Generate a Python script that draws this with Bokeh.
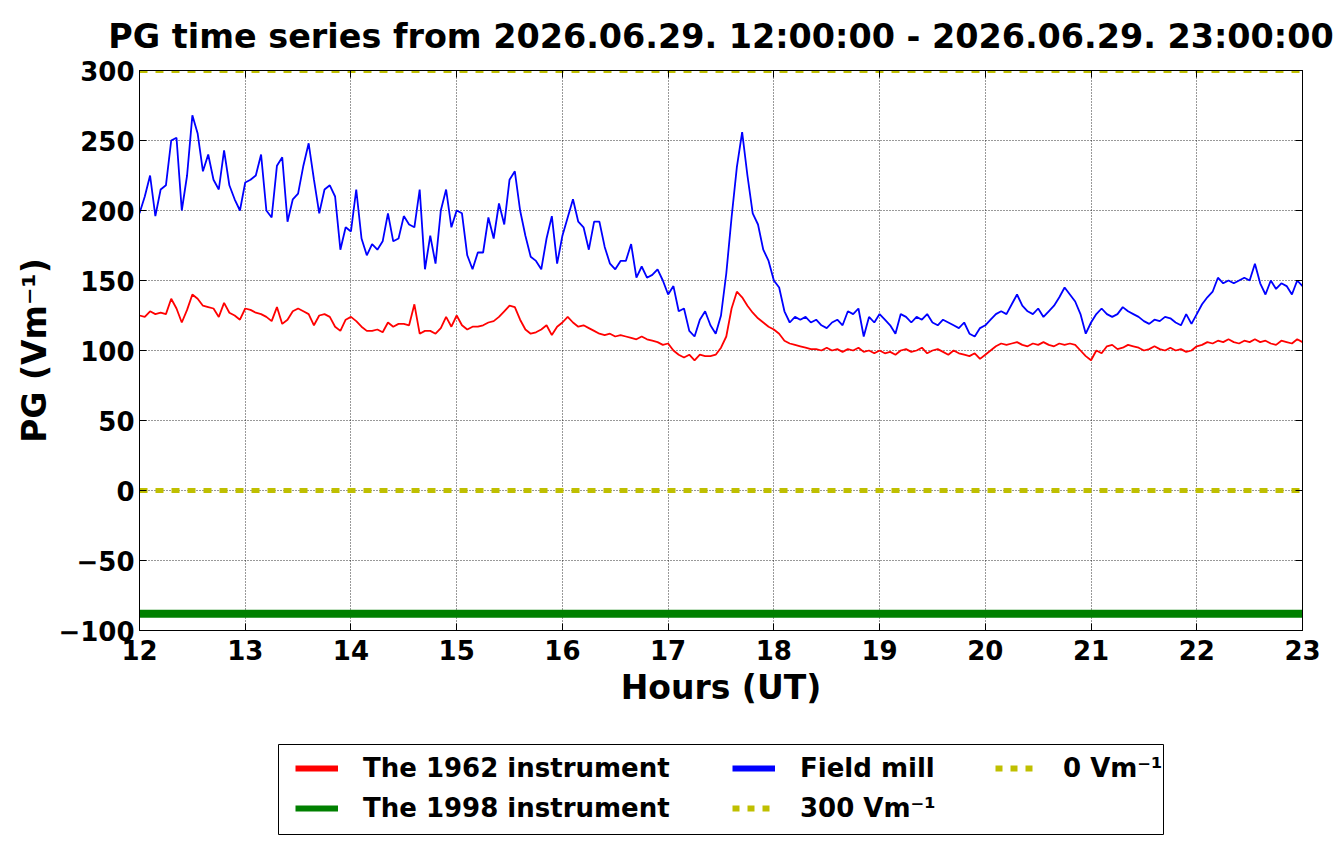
from bokeh.plotting import figure
from bokeh.models import Legend, LegendItem, LinearAxis, FixedTicker, Range1d
from bokeh.layouts import column
from bokeh.embed import file_html
from bokeh.resources import INLINE

# ---------------- data ----------------
TITLE = "PG time series from 2026.06.29. 12:00:00 - 2026.06.29. 23:00:00"
START_HOUR = 12.0
STEP_HOUR = 0.05  # sampling step of the readings (3 min)

# Field mill (blue), one row per hour, 20 readings per hour
field_mill = [
    198, 210, 225, 196, 215, 218, 250, 252, 200, 225, 268, 255, 228, 240, 222, 215, 243, 218, 208, 200,
    220, 222, 225, 240, 200, 195, 232, 238, 192, 208, 212, 232, 248, 222, 198, 215, 218, 210, 172, 188,
    185, 215, 180, 168, 176, 172, 178, 198, 178, 180, 196, 190, 188, 215, 158, 182, 162, 200, 215, 188,
    200, 198, 168, 158, 170, 170, 195, 180, 205, 190, 222, 228, 200, 182, 167, 164, 158, 180, 196, 162,
    182, 195, 208, 192, 188, 172, 192, 192, 174, 162, 158, 164, 164, 176, 152, 160, 152, 154, 158, 150,
    140, 146, 128, 130, 114, 110, 122, 128, 118, 112, 125, 155, 195, 231, 256, 225, 198, 190, 172, 164,
    150, 145, 128, 120, 124, 122, 124, 120, 122, 118, 116, 120, 122, 118, 128, 126, 130, 110, 124, 120,
    126, 122, 118, 112, 126, 124, 120, 124, 122, 126, 120, 118, 122, 120, 118, 116, 120, 112, 110, 116,
    118, 122, 126, 128, 126, 133, 140, 132, 128, 126, 130, 124, 128, 132, 138, 145, 140, 135, 126, 112,
    120, 126, 130, 126, 124, 126, 131, 128, 126, 124, 121, 119, 122, 121, 124, 123, 120, 118, 126, 119,
    126, 133, 138, 142, 152, 148, 150, 148, 150, 152, 150, 162, 148, 140, 150, 144, 148, 146, 140, 150,
    146,
]

# The 1962 instrument (red)
inst_1962 = [
    125, 124, 128, 126, 127, 126, 137, 130, 120, 129, 140, 137, 132, 131, 130, 124, 134, 127, 125, 122,
    130, 129, 127, 126, 124, 121, 131, 119, 122, 128, 130, 128, 126, 118, 125, 126, 124, 117, 114, 122,
    124, 121, 117, 114, 114, 115, 113, 120, 117, 119, 119, 118, 133, 112, 114, 114, 112, 116, 124, 117,
    125, 118, 115, 117, 117, 118, 120, 121, 124, 128, 132, 131, 122, 115, 112, 113, 115, 118, 111, 117,
    120, 124, 120, 117, 118, 116, 114, 112, 111, 112, 110, 111, 110, 109, 108, 110, 108, 107, 106, 104,
    105, 100, 97, 95, 97, 93, 97, 96, 96, 97, 102, 110, 130, 142, 138, 132, 127, 123, 120, 117,
    115, 112, 107, 105, 104, 103, 102, 101, 101, 100, 102, 100, 101, 99, 101, 100, 102, 99, 100, 98,
    100, 98, 99, 97, 100, 101, 99, 100, 102, 98, 100, 101, 99, 97, 100, 98, 97, 96, 98, 94,
    97, 100, 103, 105, 104, 105, 106, 104, 103, 105, 104, 106, 104, 103, 105, 104, 105, 104, 100, 96,
    93, 100, 98, 103, 104, 101, 102, 104, 103, 102, 100, 101, 103, 101, 100, 102, 100, 101, 99, 100,
    103, 104, 106, 105, 107, 106, 108, 106, 105, 107, 106, 108, 106, 107, 105, 104, 107, 106, 105, 108,
    106,
]

# The 1998 instrument (green), flat reading
inst_1998_level = -88
# reference levels
level_0 = 0
level_300 = 300

x_ticks = [12, 13, 14, 15, 16, 17, 18, 19, 20, 21, 22, 23]
y_ticks = [-100, -50, 0, 50, 100, 150, 200, 250, 300]
y_tick_labels = {-100: "\u2212100", -50: "\u221250"}

legend_labels = ["The 1962 instrument", "The 1998 instrument", "Field mill",
                 "300 Vm\u207b\u00b9", "0 Vm\u207b\u00b9"]

hours = [round(START_HOUR + i * STEP_HOUR, 4) for i in range(len(field_mill))]

# ---------------- main figure ----------------
FONT = "DejaVu Sans"
RED, GREEN, BLUE, YEL = "#ff0000", "#008000", "#0000ff", "#bfbf00"
FRAME_L, FRAME_T, FRAME_W, FRAME_H = 139, 70, 1163, 560
PAGE_W, PAGE_H = 1342, 844
MAIN_H = 720

p = figure(output_backend="svg", toolbar_location=None,
           frame_width=FRAME_W, frame_height=FRAME_H,
           x_range=Range1d(12, 23), y_range=Range1d(-100, 300),
           min_border_left=FRAME_L, min_border_right=PAGE_W - FRAME_L - FRAME_W,
           min_border_top=FRAME_T, min_border_bottom=MAIN_H - FRAME_T - FRAME_H,
           title=TITLE)
p.background_fill_color = "white"
p.border_fill_color = "white"
p.outline_line_color = "black"
p.outline_line_width = 1

p.title.text_font = FONT
p.title.text_font_size = "33.4px"
p.title.text_font_style = "bold"
p.title.text_color = "black"
p.title.align = "center"
p.title.standoff = 29

for ax in (p.xaxis[0], p.yaxis[0]):
    ax.major_label_text_font = FONT
    ax.major_label_text_font_size = "26px"
    ax.major_label_text_font_style = "bold"
    ax.major_label_text_color = "black"
    ax.axis_label_text_font = FONT
    ax.axis_label_text_font_size = "33px"
    ax.axis_label_text_font_style = "bold"
    ax.axis_label_text_color = "black"
    ax.major_tick_in = 7
    ax.major_tick_out = 0
    ax.minor_tick_in = 0
    ax.minor_tick_out = 0
    ax.axis_line_color = "black"
    ax.major_tick_line_color = "black"

p.xaxis.major_label_standoff = 9
p.xaxis.axis_label_standoff = 5
p.yaxis.major_label_standoff = 5
p.yaxis.axis_label_standoff = 1

p.xaxis.ticker = FixedTicker(ticks=x_ticks)
p.yaxis.ticker = FixedTicker(ticks=y_ticks)
p.yaxis.major_label_overrides = y_tick_labels
p.xaxis.axis_label = "Hours (UT)"
p.yaxis.axis_label = "PG (Vm\u207b\u00b9)"

top_ax = LinearAxis(ticker=FixedTicker(ticks=x_ticks), major_label_text_font_size="0px",
                    major_tick_in=7, major_tick_out=0, minor_tick_in=0, minor_tick_out=0,
                    major_label_standoff=0, axis_line_color="black")
right_ax = LinearAxis(ticker=FixedTicker(ticks=y_ticks), major_label_text_font_size="0px",
                      major_tick_in=7, major_tick_out=0, minor_tick_in=0, minor_tick_out=0,
                      major_label_standoff=0, axis_line_color="black")
p.add_layout(top_ax, "above")
p.add_layout(right_ax, "right")

p.xgrid.ticker = FixedTicker(ticks=x_ticks)
p.ygrid.ticker = FixedTicker(ticks=y_ticks)
for g in (p.xgrid[0], p.ygrid[0]):
    g.grid_line_color = "black"
    g.grid_line_dash = "1 2"
    g.grid_line_width = 1
    g.grid_line_alpha = 0.8

p.line(hours, inst_1962, line_color=RED, line_width=1.8)
p.line(hours, field_mill, line_color=BLUE, line_width=1.8)
p.line([hours[0], hours[-1]], [inst_1998_level, inst_1998_level], line_color=GREEN, line_width=8)
p.line([hours[0], hours[-1]], [level_300, level_300], line_color=YEL, line_width=5,
       line_dash="8 8", line_cap="butt")
p.line([hours[0], hours[-1]], [level_0, level_0], line_color=YEL, line_width=5,
       line_dash="8 8", line_cap="butt")

# ---------------- legend strip (second figure below, page-pixel ranges) ----------------
q = figure(output_backend="svg", toolbar_location=None, width=PAGE_W, height=PAGE_H - MAIN_H,
           x_range=Range1d(FRAME_L, FRAME_L + FRAME_W), y_range=Range1d(PAGE_H, MAIN_H),
           min_border_left=FRAME_L, min_border_right=PAGE_W - FRAME_L - FRAME_W,
           min_border_top=0, min_border_bottom=0)
q.axis.visible = False
q.grid.visible = False
q.outline_line_color = None
q.border_fill_color = "white"
q.background_fill_color = "white"

# legend box
BOX_L, BOX_R, BOX_T, BOX_B = 278, 1163, 744, 834
q.quad(left=[BOX_L], right=[BOX_R], top=[BOX_T], bottom=[BOX_B],
       fill_color="white", line_color="black", line_width=1)

# legend handles (drawn off-range; only used for the legend swatches)
off = dict(x=[0, 1], y=[0, 0])
lg_red = q.line(off["x"], off["y"], line_color=RED, line_width=6)
lg_green = q.line(off["x"], off["y"], line_color=GREEN, line_width=6)
lg_blue = q.line(off["x"], off["y"], line_color=BLUE, line_width=6)
lg_300 = q.line(off["x"], off["y"], line_color=YEL, line_width=6, line_dash="7 8", line_cap="butt")
lg_0 = q.line(off["x"], off["y"], line_color=YEL, line_width=6, line_dash="7 8", line_cap="butt")


def make_legend(items, glyph_x, bottom_y):
    lg = Legend(items=items, orientation="vertical",
                location=(glyph_x - FRAME_L, PAGE_H - bottom_y))
    lg.label_text_font = FONT
    lg.label_text_font_size = "26px"
    lg.label_text_font_style = "bold"
    lg.label_text_color = "black"
    lg.glyph_width = 43
    lg.glyph_height = 30
    lg.label_height = 30
    lg.label_standoff = 25
    lg.spacing = 10
    lg.padding = 0
    lg.margin = 0
    lg.border_line_color = None
    lg.background_fill_alpha = 0
    q.add_layout(lg, "center")


make_legend([LegendItem(label=legend_labels[0], renderers=[lg_red]),
             LegendItem(label=legend_labels[1], renderers=[lg_green])], 295, 823)
make_legend([LegendItem(label=legend_labels[2], renderers=[lg_blue]),
             LegendItem(label=legend_labels[3], renderers=[lg_300])], 732, 823)
make_legend([LegendItem(label=legend_labels[4], renderers=[lg_0])], 995, 783)

layout = column(p, q, spacing=0)
open("out.html", "w").write(file_html(layout, INLINE))
